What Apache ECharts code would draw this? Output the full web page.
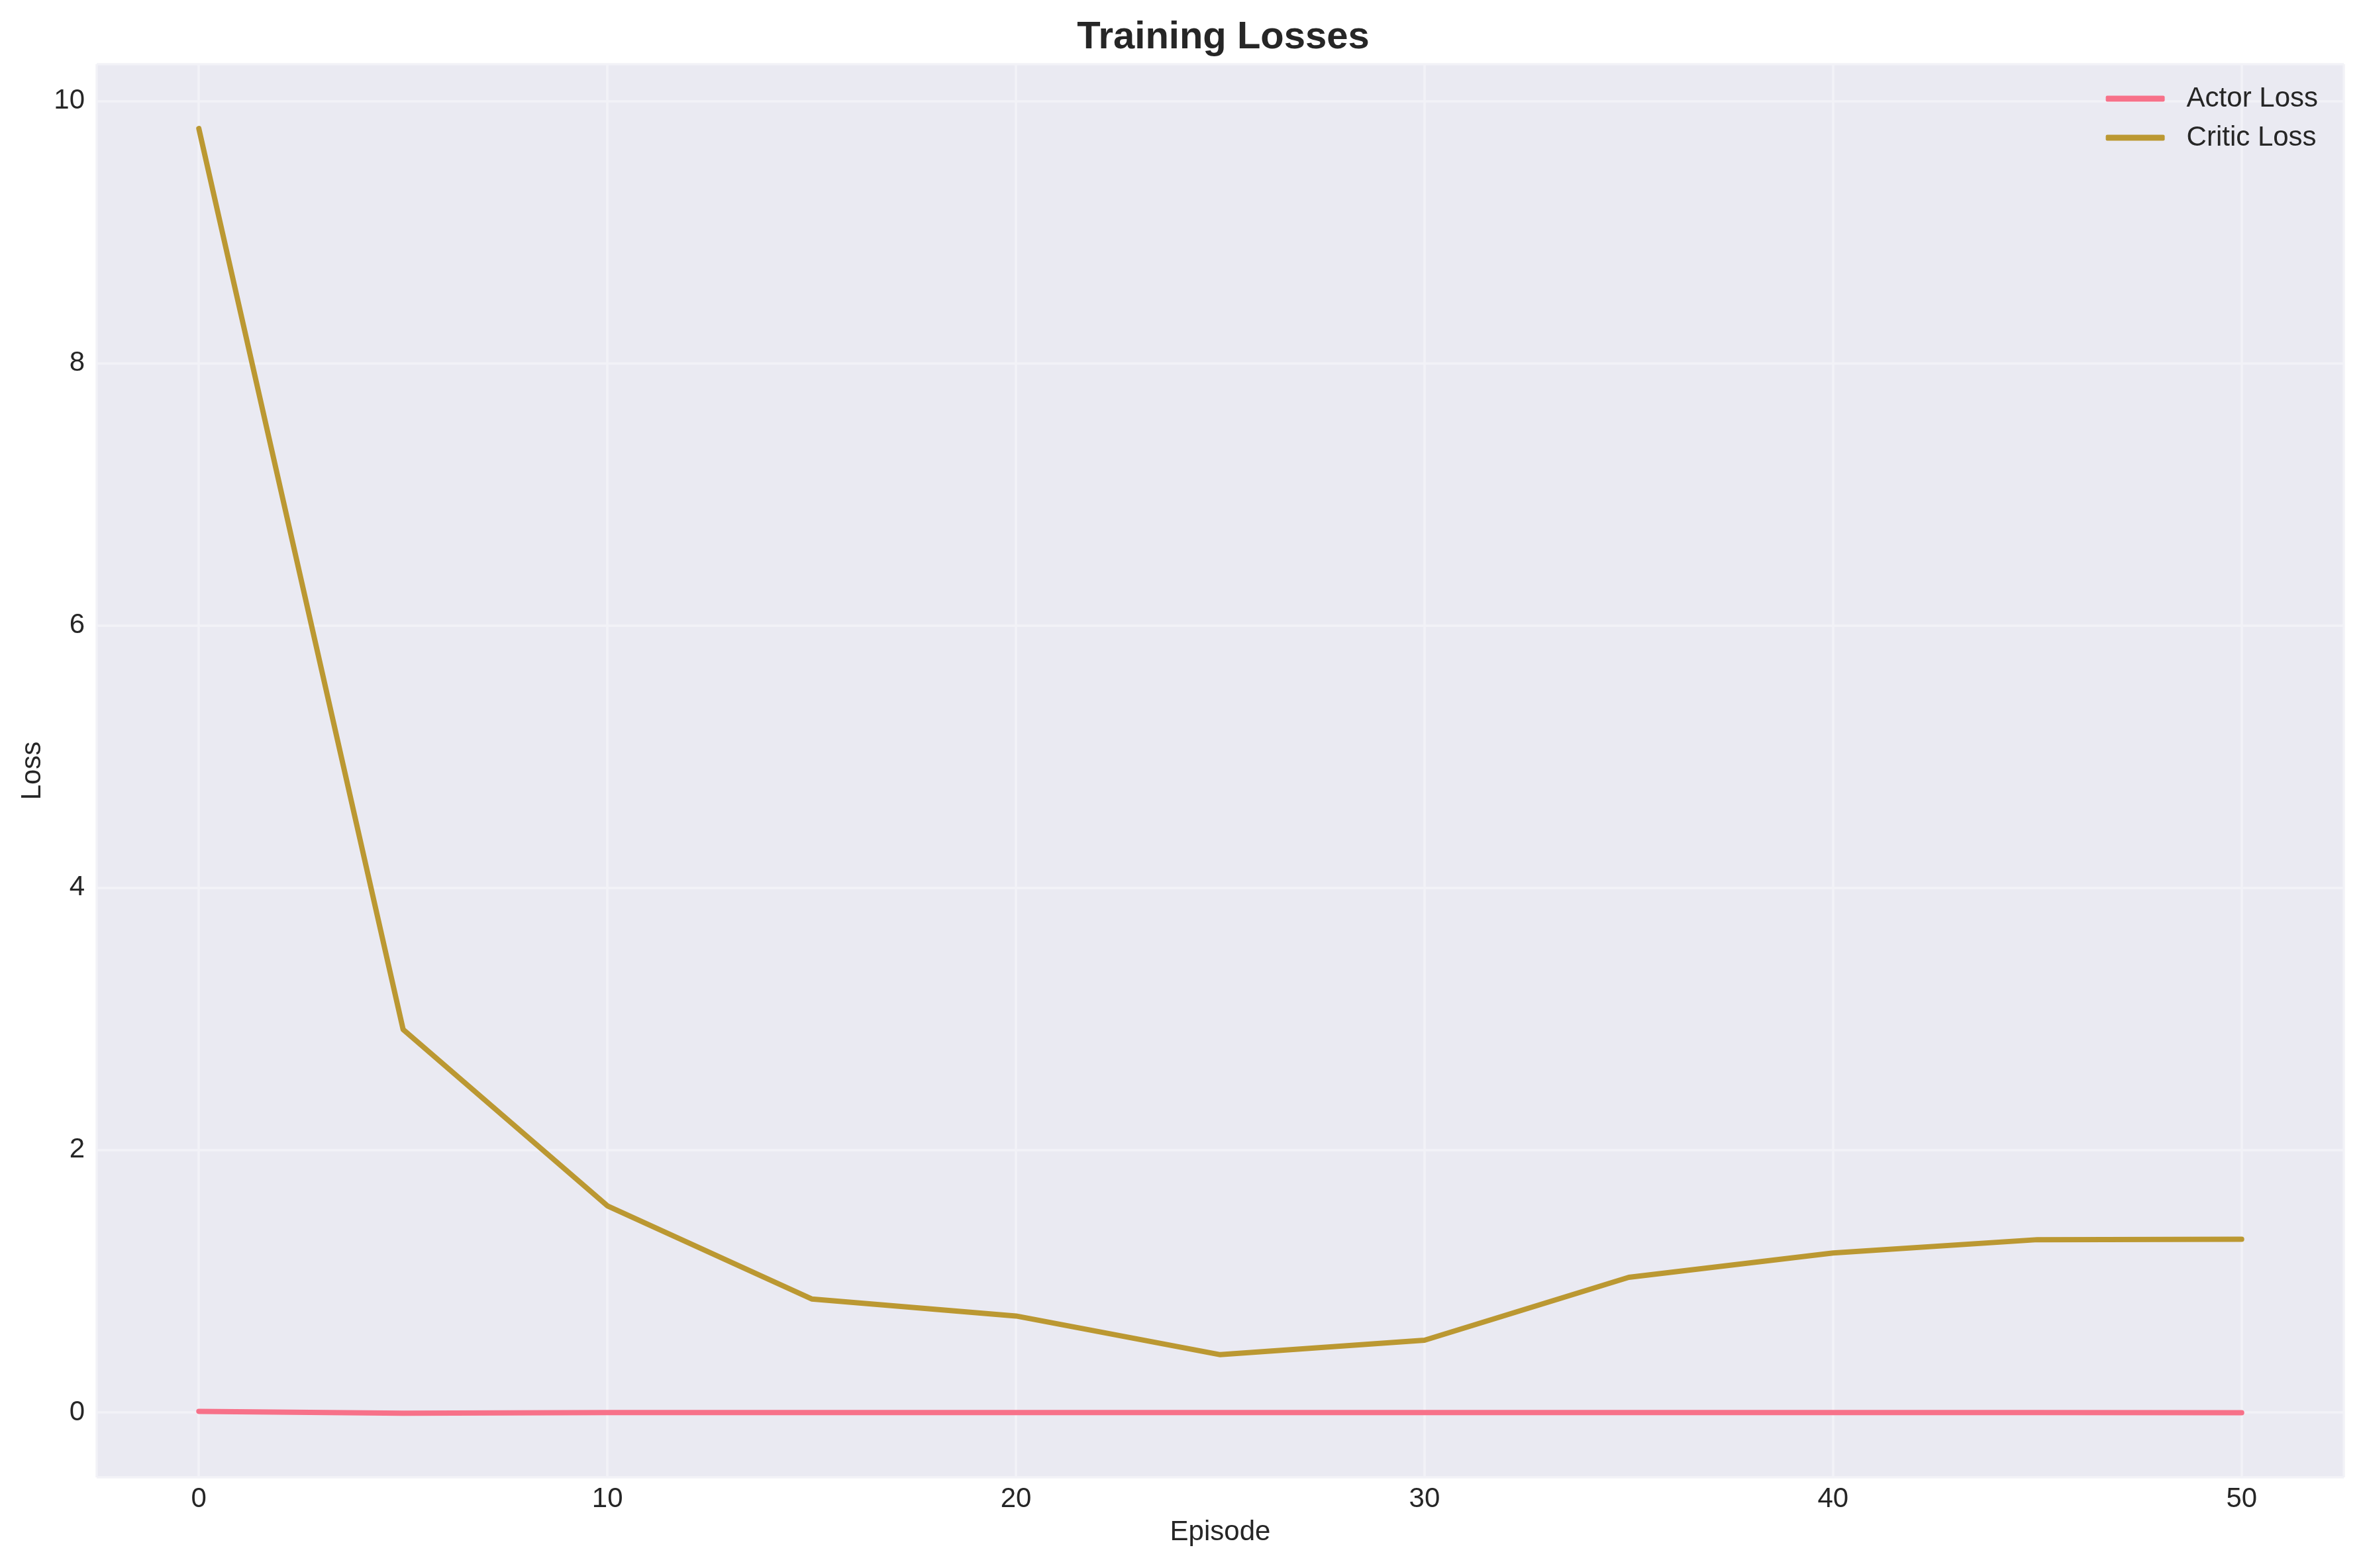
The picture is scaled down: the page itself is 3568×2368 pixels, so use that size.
<!DOCTYPE html>
<html>
<head>
<meta charset="utf-8">
<script src="https://cdn.jsdelivr.net/npm/echarts@6/dist/echarts.min.js"></script>
<style>
html,body{margin:0;padding:0;background:#fff;}
#chart{width:3568px;height:2368px;}
</style>
</head>
<body>
<div id="chart"></div>
<script>
const episodes = [0, 5, 10, 15, 20, 25, 30, 35, 40, 45, 50];
const actorLoss = [0.008, -0.006, -0.002, -0.001, -0.001, -0.001, -0.001, -0.001, -0.001, -0.001, -0.003];
const criticLoss = [9.79, 2.92, 1.575, 0.865, 0.735, 0.44, 0.55, 1.03, 1.215, 1.317, 1.32];

const font = 'Liberation Sans, Arial, sans-serif';
const textColor = '#262626';

const chart = echarts.init(document.getElementById('chart'), null, {renderer: 'canvas'});
chart.setOption({
  backgroundColor: '#ffffff',
  animation: false,
  title: {
    text: 'Training Losses',
    left: 1842,
    textAlign: 'center',
    top: 23,
    textStyle: {fontFamily: font, fontSize: 58, fontWeight: 'bold', color: textColor}
  },
  legend: {
    orient: 'vertical',
    right: 68,
    top: 128,
    padding: 0,
    itemGap: 17,
    itemWidth: 89,
    itemHeight: 9,
    icon: 'roundRect',
    textStyle: {fontFamily: font, fontSize: 42, color: textColor, padding: [0, 0, 0, 28]},
    data: ['Actor Loss', 'Critic Loss']
  },
  grid: {
    left: 146, right: 29, top: 97, bottom: 137,
    show: true, backgroundColor: '#EAEAF2', borderWidth: 0
  },
  xAxis: {
    type: 'value',
    min: -2.5, max: 52.5,
    splitNumber: 5,
    name: 'Episode',
    nameLocation: 'middle',
    nameGap: 62,
    nameTextStyle: {fontFamily: font, fontSize: 42, color: textColor},
    axisLine: {show: false},
    axisTick: {show: false},
    axisLabel: {fontFamily: font, fontSize: 42, color: textColor, margin: 12, showMinLabel: false, showMaxLabel: false},
    splitLine: {show: true, lineStyle: {color: '#F2F2F7', width: 3.5}}
  },
  yAxis: {
    type: 'value',
    min: -0.495, max: 10.28,
    splitNumber: 5,
    name: 'Loss',
    nameLocation: 'middle',
    nameGap: 74,
    nameTextStyle: {fontFamily: font, fontSize: 42, color: textColor},
    axisLine: {show: false},
    axisTick: {show: false},
    axisLabel: {fontFamily: font, fontSize: 42, color: textColor, margin: 18, showMinLabel: false, showMaxLabel: false},
    splitLine: {show: true, lineStyle: {color: '#F2F2F7', width: 3.5}}
  },
  series: [
    {
      name: 'Actor Loss', type: 'line', symbol: 'none',
      data: episodes.map((e, i) => [e, actorLoss[i]]),
      lineStyle: {color: '#F77189', width: 8, cap: 'round', join: 'round'},
      itemStyle: {color: '#F77189'}
    },
    {
      name: 'Critic Loss', type: 'line', symbol: 'none',
      data: episodes.map((e, i) => [e, criticLoss[i]]),
      lineStyle: {color: '#BB9832', width: 8, cap: 'round', join: 'round'},
      itemStyle: {color: '#BB9832'}
    }
  ]
});
</script>
</body>
</html>
